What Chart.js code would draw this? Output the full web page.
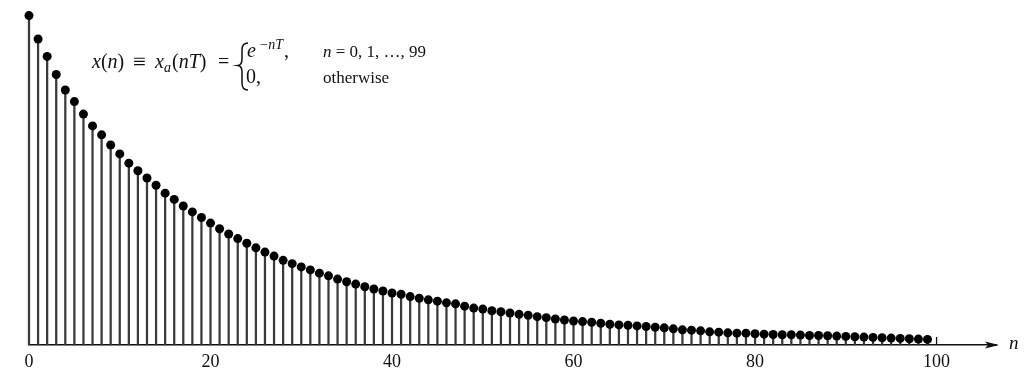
<!DOCTYPE html>
<html lang="en">
<head>
    <meta charset="UTF-8">
    <title>Sampled exponential x(n)</title>
    <script src="https://cdn.jsdelivr.net/npm/chart.js"></script>
    <style>
        body {
            margin: 0;
            background-color: #ffffff;
        }
        #chartContainer {
            width: 1026px;
            height: 375px;
            position: relative;
        }
    </style>
</head>
<body>

    <div id="chartContainer">
        <canvas id="stemChart"></canvas>
    </div>

    <script>
        // sample index n
        const sampleIndex = [
            0, 1, 2, 3, 4, 5, 6, 7, 8, 9,
            10, 11, 12, 13, 14, 15, 16, 17, 18, 19,
            20, 21, 22, 23, 24, 25, 26, 27, 28, 29,
            30, 31, 32, 33, 34, 35, 36, 37, 38, 39,
            40, 41, 42, 43, 44, 45, 46, 47, 48, 49,
            50, 51, 52, 53, 54, 55, 56, 57, 58, 59,
            60, 61, 62, 63, 64, 65, 66, 67, 68, 69,
            70, 71, 72, 73, 74, 75, 76, 77, 78, 79,
            80, 81, 82, 83, 84, 85, 86, 87, 88, 89,
            90, 91, 92, 93, 94, 95, 96, 97, 98, 99
        ];

        // x(n) (x(0) = 1)
        const sampleValues = [
            1.000, 0.929, 0.876, 0.821, 0.774, 0.739, 0.701, 0.665, 0.638, 0.607,
            0.580, 0.552, 0.529, 0.507, 0.485, 0.461, 0.442, 0.422, 0.404, 0.387,
            0.370, 0.353, 0.337, 0.323, 0.309, 0.295, 0.282, 0.270, 0.257, 0.247,
            0.237, 0.228, 0.218, 0.210, 0.200, 0.192, 0.185, 0.177, 0.170, 0.164,
            0.158, 0.154, 0.147, 0.142, 0.137, 0.133, 0.128, 0.125, 0.118, 0.112,
            0.109, 0.104, 0.101, 0.097, 0.093, 0.090, 0.086, 0.083, 0.079, 0.076,
            0.073, 0.071, 0.069, 0.066, 0.063, 0.061, 0.060, 0.058, 0.056, 0.054,
            0.052, 0.049, 0.046, 0.045, 0.043, 0.040, 0.039, 0.037, 0.036, 0.036,
            0.034, 0.033, 0.032, 0.031, 0.031, 0.030, 0.029, 0.029, 0.028, 0.027,
            0.026, 0.025, 0.024, 0.023, 0.022, 0.021, 0.020, 0.019, 0.018, 0.017
        ];

        // labelled positions on the n axis
        const xTickValues = [0, 20, 40, 60, 80, 100];

        const points = sampleIndex.map((n, i) => ({ x: n, y: sampleValues[i] }));
        const serif = '"Liberation Serif", "DejaVu Serif", serif';

        // arrow, n label, tick at 100 and the formula
        const decorations = {
            id: 'decorations',
            afterDraw(chart) {
                const ctx = chart.ctx;
                const xs = chart.scales.x;
                const area = chart.chartArea;
                const y0 = area.bottom;

                ctx.save();
                ctx.fillStyle = '#111';
                ctx.strokeStyle = '#111';

                // axis line up to the arrow
                ctx.lineWidth = 1.5;
                ctx.beginPath();
                ctx.moveTo(area.right, y0);
                ctx.lineTo(area.right + 6, y0);
                ctx.stroke();

                // arrow head
                const tip = area.right + 8;
                ctx.beginPath();
                ctx.moveTo(tip, y0);
                ctx.lineTo(tip - 14, y0 - 3.5);
                ctx.lineTo(tip - 11, y0);
                ctx.lineTo(tip - 14, y0 + 3.5);
                ctx.closePath();
                ctx.fill();

                // small tick at n = 100
                const x100 = xs.getPixelForValue(100);
                ctx.lineWidth = 1.3;
                ctx.beginPath();
                ctx.moveTo(x100, y0);
                ctx.lineTo(x100, y0 - 8);
                ctx.stroke();

                // axis name
                ctx.font = 'italic 19px ' + serif;
                ctx.textBaseline = 'alphabetic';
                ctx.fillText('n', tip + 10, y0 + 4);

                // formula
                const put = (str, x, y, font) => {
                    ctx.font = font + ' ' + serif;
                    ctx.fillText(str, x, y);
                    return x + ctx.measureText(str).width;
                };
                const it = 'italic 20px';
                const rm = '20px';
                const yb = 68;
                let x = 92;
                x = put('x', x, yb, it);
                x = put('(', x, yb, rm);
                x = put('n', x, yb, it);
                put(')', x, yb, rm);
                put('\u2261', 133, yb + 1, '23px');
                x = put('x', 155, yb, it);
                put('a', x, yb + 4, 'italic 14px');
                x = put('(', 172, yb, rm);
                x = put('nT', x, yb, it);
                put(')', x, yb, rm);
                put('=', 218, yb, rm);

                // brace
                const bx = 242;
                ctx.lineWidth = 1.5;
                ctx.beginPath();
                ctx.moveTo(bx + 6, 43);
                ctx.quadraticCurveTo(bx, 43, bx, 50);
                ctx.lineTo(bx, 59);
                ctx.quadraticCurveTo(bx, 65, bx - 4, 65.5);
                ctx.quadraticCurveTo(bx, 66, bx, 72);
                ctx.lineTo(bx, 83);
                ctx.quadraticCurveTo(bx, 90, bx + 6, 90);
                ctx.stroke();

                let ex = put('e', 247, 57, it);
                ex = put('\u2212nT', ex + 3, 49, 'italic 14px');
                put(',', ex + 1, 57, rm);
                put('0,', 246, 83, rm);

                const it2 = 'italic 17px';
                const rm2 = '17px';
                let cx = 323;
                cx = put('n', cx, 57, it2);
                put(' = 0, 1, \u2026, 99', cx, 57, rm2);
                put('otherwise', 323, 83, rm2);

                ctx.restore();
            }
        };

        const ctx = document.getElementById('stemChart').getContext('2d');

        const stemChart = new Chart(ctx, {
            type: 'bar',
            data: {
                datasets: [{
                    type: 'scatter',
                    data: points,
                    pointRadius: 4.5,
                    pointBackgroundColor: '#000',
                    pointBorderWidth: 0,
                    showLine: false,
                    clip: false,
                    order: 0
                }, {
                    type: 'bar',
                    data: points,
                    barThickness: 1.6,
                    backgroundColor: '#3a3a3a',
                    clip: false,
                    order: 1
                }]
            },
            options: {
                responsive: true,
                maintainAspectRatio: false,
                animation: false,
                layout: {
                    padding: { left: 29, right: 35, top: 9, bottom: 0 }
                },
                plugins: {
                    legend: { display: false },
                    tooltip: { enabled: false }
                },
                scales: {
                    x: {
                        type: 'linear',
                        offset: false,
                        min: 0,
                        max: 106,
                        grid: { display: false, drawTicks: false, offset: false },
                        border: { display: true, color: '#111', width: 1.5 },
                        ticks: {
                            color: '#111',
                            padding: 6,
                            maxRotation: 0,
                            font: { family: serif, size: 18 }
                        },
                        afterBuildTicks: (scale) => {
                            scale.ticks = xTickValues.map(v => ({ value: v }));
                        },
                        afterFit: (scale) => {
                            scale.height = 30;
                        }
                    },
                    y: {
                        display: false,
                        min: 0,
                        max: 1.02
                    }
                }
            },
            plugins: [decorations]
        });
    </script>

</body>
</html>
